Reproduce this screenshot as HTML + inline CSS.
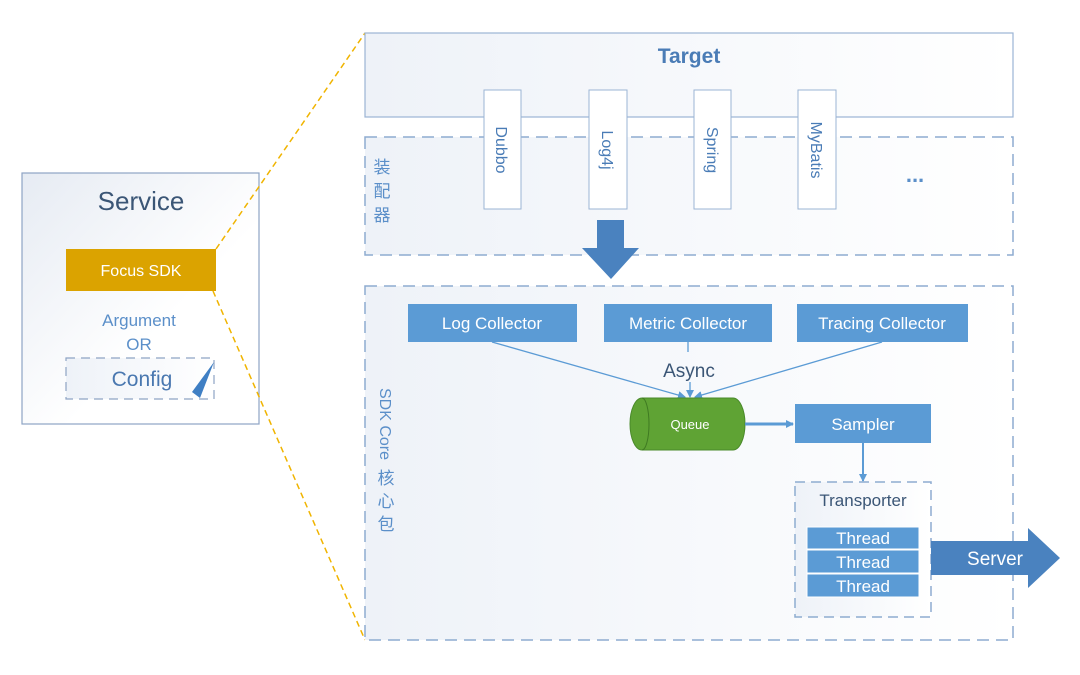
<!DOCTYPE html>
<html><head><meta charset="utf-8"><style>
html,body{margin:0;padding:0;background:#fff;}
svg{display:block;}
text{font-family:"Liberation Sans","Noto Sans CJK SC",sans-serif;}
.cjk{font-family:"Noto Sans CJK SC","WenQuanYi Zen Hei",sans-serif;}
</style></head><body>
<svg width="1080" height="675" viewBox="0 0 1080 675" xmlns="http://www.w3.org/2000/svg">
<defs>
<linearGradient id="g1" x1="0" y1="0" x2="1" y2="1"><stop offset="0" stop-color="#e6ebf3"/><stop offset="0.6" stop-color="#ffffff"/></linearGradient>
<linearGradient id="g2" x1="0" y1="0" x2="1" y2="0"><stop offset="0" stop-color="#eef2f8"/><stop offset="1" stop-color="#ffffff"/></linearGradient>
<marker id="ah" markerWidth="8" markerHeight="8" refX="7" refY="4" orient="auto" markerUnits="userSpaceOnUse"><path d="M0,0 L8,4 L0,8 z" fill="#5b9bd5"/></marker>
</defs>
<!-- Service -->
<rect x="22" y="173" width="237" height="251" fill="url(#g1)" stroke="#8ea4c4" stroke-width="1.2"/>
<text x="141" y="210" font-size="26" fill="#3b5676" text-anchor="middle">Service</text>
<rect x="66" y="249" width="150" height="42" fill="#dba300"/>
<text x="141" y="276" font-size="16" fill="#fff" text-anchor="middle">Focus SDK</text>
<text x="139" y="326" font-size="17" fill="#5b8fc9" text-anchor="middle">Argument</text>
<text x="139" y="350" font-size="17" fill="#5b8fc9" text-anchor="middle">OR</text>
<rect x="66" y="358" width="148" height="41" fill="url(#g2)" stroke="#8ea4c4" stroke-width="1.2" stroke-dasharray="9,6"/>
<text x="142" y="386" font-size="21" fill="#4a78b0" text-anchor="middle">Config</text>
<path d="M214,362 L192,392 L200,398 z" fill="#3f7fc4"/>
<!-- yellow dashed -->
<line x1="216" y1="249" x2="365" y2="33" stroke="#f0b400" stroke-width="1.5" stroke-dasharray="6,4"/>
<line x1="213" y1="291" x2="365" y2="640" stroke="#f0b400" stroke-width="1.5" stroke-dasharray="6,4"/>
<!-- Target -->
<rect x="365" y="33" width="648" height="84" fill="url(#g2)" stroke="#9bb4d4" stroke-width="1.2"/>
<text x="689" y="63" font-size="21" font-weight="bold" fill="#4a7cb6" text-anchor="middle">Target</text>
<!-- adapter -->
<rect x="365" y="137" width="648" height="118" fill="url(#g2)" stroke="#8eacd0" stroke-width="1.5" stroke-dasharray="12,7"/>
<g class="cjk" font-size="17" fill="#5b8fc9" text-anchor="middle">
<text x="382" y="173" class="cjk">装</text><text x="382" y="197" class="cjk">配</text><text x="382" y="221" class="cjk">器</text>
</g>
<g font-size="16" fill="#4a7cb6">
<rect x="484" y="90" width="37" height="119" fill="#fff" stroke="#9bb4d4"/>
<text transform="translate(496,150) rotate(90)" text-anchor="middle">Dubbo</text>
<rect x="589" y="90" width="38" height="119" fill="#fff" stroke="#9bb4d4"/>
<text transform="translate(602,150) rotate(90)" text-anchor="middle">Log4j</text>
<rect x="694" y="90" width="37" height="119" fill="#fff" stroke="#9bb4d4"/>
<text transform="translate(707,150) rotate(90)" text-anchor="middle">Spring</text>
<rect x="798" y="90" width="38" height="119" fill="#fff" stroke="#9bb4d4"/>
<text transform="translate(811,150) rotate(90)" text-anchor="middle">MyBatis</text>
</g>
<text x="915" y="182" font-size="22" font-weight="bold" fill="#5b8fc9" text-anchor="middle">...</text>
<!-- SDK core -->
<rect x="365" y="286" width="648" height="354" fill="url(#g2)" stroke="#8eacd0" stroke-width="1.5" stroke-dasharray="12,7"/>
<path d="M597,220 L624,220 L624,248 L639,248 L611,279 L582,248 L597,248 z" fill="#4a82bf"/>
<text transform="translate(380,388) rotate(90)" font-size="16" fill="#5b8fc9">SDK Core</text>
<g font-size="17" fill="#5b8fc9" text-anchor="middle">
<text x="386" y="484" class="cjk">核</text><text x="386" y="507" class="cjk">心</text><text x="386" y="530" class="cjk">包</text>
</g>
<g font-size="17" fill="#fff" text-anchor="middle">
<rect x="408" y="304" width="169" height="38" fill="#5b9bd5"/><text x="492" y="329">Log Collector</text>
<rect x="604" y="304" width="168" height="38" fill="#5b9bd5"/><text x="688" y="329">Metric Collector</text>
<rect x="797" y="304" width="171" height="38" fill="#5b9bd5"/><text x="882" y="329">Tracing Collector</text>
</g>
<line x1="492" y1="342" x2="685" y2="397" stroke="#5b9bd5" stroke-width="1.3" marker-end="url(#ah)"/>
<line x1="882" y1="342" x2="695" y2="397" stroke="#5b9bd5" stroke-width="1.3" marker-end="url(#ah)"/>
<line x1="688" y1="342" x2="688" y2="352" stroke="#5b9bd5" stroke-width="1.3"/>
<line x1="690" y1="382" x2="690" y2="397" stroke="#5b9bd5" stroke-width="1.3" marker-end="url(#ah)"/>
<text x="689" y="377" font-size="19" fill="#3b5676" text-anchor="middle">Async</text>
<!-- queue -->
<path d="M642,398 L733,398 A12,26 0 0 1 733,450 L642,450 A12,26 0 0 1 642,398 z" fill="#5fa334" stroke="#4a8a2a"/>
<path d="M642,398 A7,26 0 0 1 642,450" fill="none" stroke="#3f7a22"/>
<text x="690" y="429" font-size="13" fill="#fff" text-anchor="middle">Queue</text>
<line x1="745" y1="424" x2="793" y2="424" stroke="#5b9bd5" stroke-width="3" marker-end="url(#ah)"/>
<rect x="795" y="404" width="136" height="39" fill="#5b9bd5"/>
<text x="863" y="430" font-size="17" fill="#fff" text-anchor="middle">Sampler</text>
<line x1="863" y1="443" x2="863" y2="481" stroke="#5b9bd5" stroke-width="2" marker-end="url(#ah)"/>
<rect x="795" y="482" width="136" height="135" fill="url(#g2)" stroke="#8eacd0" stroke-width="1.5" stroke-dasharray="10,6"/>
<text x="863" y="506" font-size="17" fill="#3b5676" text-anchor="middle">Transporter</text>
<g font-size="17" fill="#fff" text-anchor="middle">
<rect x="807" y="527" width="112" height="22" fill="#5b9bd5" stroke="#fff"/><text x="863" y="544">Thread</text>
<rect x="807" y="550" width="112" height="23" fill="#5b9bd5" stroke="#fff"/><text x="863" y="568">Thread</text>
<rect x="807" y="574" width="112" height="23" fill="#5b9bd5" stroke="#fff"/><text x="863" y="592">Thread</text>
</g>
<path d="M931,541 L1028,541 L1028,528 L1060,558 L1028,588 L1028,575 L931,575 z" fill="#4a82bf"/>
<text x="995" y="565" font-size="19" fill="#fff" text-anchor="middle">Server</text>
</svg>
</body></html>
